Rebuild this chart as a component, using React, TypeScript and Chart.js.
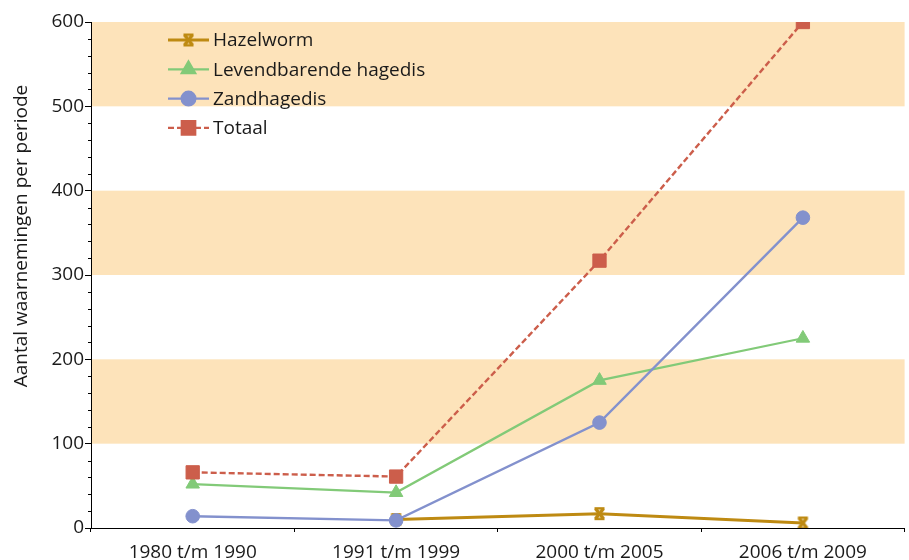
import React, { useEffect, useRef } from "react";
import { Chart, registerables } from "chart.js";
import { drawPoint } from "chart.js/helpers";

Chart.register(...registerables);

const categories = ["1980 t/m 1990", "1991 t/m 1999", "2000 t/m 2005", "2006 t/m 2009"];
const hazelworm = [null, 10, 17, 6];
const levendbarende = [52, 42, 175, 225];
const zandhagedis = [14, 9, 125, 368];
const totaal = [66, 61, 317, 600];
const yTicks = [0, 100, 200, 300, 400, 500, 600];
const bands = [[100, 200], [300, 400], [500, 600]];
const yTitle = "Aantal waarnemingen per periode";

const C_HAZEL = "#BE8A12";
const C_GREEN = "#82CA78";
const C_BLUE = "#8391CD";
const C_RED = "#CC5E4B";
const C_BAND = "#FDE3BA";
const C_TEXT = "#1a1a1a";
const FONT = "'Open Sans', 'Noto Sans', sans-serif";

const VIEW_W = 909;
const W = 915;
const H = 570;

function makeHourglass(color: string) {
  const c = document.createElement("canvas");
  c.width = 15;
  c.height = 15;
  const g = c.getContext("2d")!;
  g.strokeStyle = color;
  g.lineWidth = 3.4;
  g.lineCap = "butt";
  g.beginPath();
  g.moveTo(3.5, 2.5);
  g.lineTo(11.5, 12.5);
  g.moveTo(11.5, 2.5);
  g.lineTo(3.5, 12.5);
  g.stroke();
  g.lineWidth = 2.4;
  g.beginPath();
  g.moveTo(2.5, 2.2);
  g.lineTo(12.5, 2.2);
  g.moveTo(2.5, 12.8);
  g.lineTo(12.5, 12.8);
  g.stroke();
  return c;
}

const bandPlugin = {
  id: "bands",
  beforeDraw(chart: any) {
    const { ctx, chartArea, scales } = chart;
    const y = scales.y;
    ctx.save();
    ctx.fillStyle = C_BAND;
    for (const [a, b] of bands) {
      const y1 = y.getPixelForValue(b);
      const y2 = y.getPixelForValue(a);
      ctx.fillRect(chartArea.left, y1, chartArea.right - chartArea.left, y2 - y1);
    }
    ctx.restore();
  },
};

const extrasPlugin = {
  id: "extras",
  afterDraw(chart: any) {
    const { ctx, chartArea, scales } = chart;
    const y = scales.y;
    ctx.save();
    // minor ticks
    ctx.strokeStyle = "#000";
    ctx.lineWidth = 1;
    ctx.beginPath();
    for (let v = 0; v <= 600; v += 20) {
      if (v % 100 === 0) continue;
      const py = Math.round(y.getPixelForValue(v)) + 0.5;
      ctx.moveTo(chartArea.left - 3, py);
      ctx.lineTo(chartArea.left, py);
    }
    ctx.stroke();

    // y title
    ctx.fillStyle = C_TEXT;
    ctx.font = `19px ${FONT}`;
    ctx.textAlign = "center";
    ctx.textBaseline = "middle";
    ctx.translate(22, (chartArea.top + chartArea.bottom) / 2 - 39);
    ctx.rotate(-Math.PI / 2);
    ctx.fillText(yTitle, 0, 0);
    ctx.restore();

    // legend
    ctx.save();
    const lx = chartArea.left + 77;
    const ly = chartArea.top + 18;
    const rowH = 29.3;
    ctx.font = `19px ${FONT}`;
    ctx.textBaseline = "middle";
    ctx.textAlign = "left";
    chart.data.datasets.forEach((ds: any, i: number) => {
      const cy = ly + i * rowH;
      ctx.save();
      ctx.strokeStyle = ds.borderColor;
      ctx.lineWidth = ds.borderWidth;
      ctx.setLineDash(ds.borderDash || []);
      ctx.beginPath();
      ctx.moveTo(lx, cy);
      ctx.lineTo(lx + 41, cy);
      ctx.stroke();
      ctx.setLineDash([]);
      ctx.fillStyle = ds.pointBackgroundColor;
      ctx.strokeStyle = ds.pointBorderColor;
      drawPoint(ctx, {
        pointStyle: ds.pointStyle,
        radius: ds.pointRadius,
        rotation: 0,
        borderWidth: ds.pointBorderWidth,
      } as any, lx + 20.5, cy);
      ctx.restore();
      ctx.fillStyle = C_TEXT;
      ctx.fillText(ds.label, lx + 45, cy + 1);
    });
    ctx.restore();
  },
};

export default function App() {
  const ref = useRef<HTMLCanvasElement>(null);
  useEffect(() => {
    if (!ref.current) return;
    const hourglass = makeHourglass(C_HAZEL);
    const chart = new Chart(ref.current, {
      type: "line",
      data: {
        labels: categories,
        datasets: [
          {
            label: "Hazelworm",
            data: hazelworm,
            borderColor: C_HAZEL,
            backgroundColor: C_HAZEL,
            borderWidth: 3,
            pointStyle: hourglass as any,
            pointRadius: 7,
            pointBackgroundColor: C_HAZEL,
            pointBorderColor: C_HAZEL,
            pointBorderWidth: 1,
            order: 3,
            spanGaps: false,
          } as any,
          {
            label: "Levendbarende hagedis",
            data: levendbarende,
            borderColor: C_GREEN,
            backgroundColor: C_GREEN,
            borderWidth: 2.2,
            pointStyle: "triangle",
            pointRadius: 7.8,
            pointBackgroundColor: C_GREEN,
            pointBorderColor: C_GREEN,
            pointBorderWidth: 1,
            order: 2,
          },
          {
            label: "Zandhagedis",
            data: zandhagedis,
            borderColor: C_BLUE,
            backgroundColor: C_BLUE,
            borderWidth: 2.4,
            pointStyle: "circle",
            pointRadius: 6.8,
            pointBackgroundColor: C_BLUE,
            pointBorderColor: C_BLUE,
            pointBorderWidth: 1,
            order: 1,
          },
          {
            label: "Totaal",
            data: totaal,
            borderColor: C_RED,
            backgroundColor: C_RED,
            borderWidth: 2.4,
            borderDash: [6, 3],
            pointStyle: "rect",
            pointRadius: 9.4,
            pointBackgroundColor: C_RED,
            pointBorderColor: C_RED,
            pointBorderWidth: 1,
            order: 0,
          },
        ],
      },
      options: {
        responsive: false,
        animation: false,
        events: [],
        layout: { padding: { top: 22, right: 0, left: 0, bottom: 0 } },
        plugins: {
          legend: { display: false },
          tooltip: { enabled: false },
          title: { display: false },
        },
        scales: {
          x: {
            type: "category",
            offset: true,
            grid: {
              offset: true,
              drawOnChartArea: false,
              drawTicks: true,
              tickLength: 4,
              color: "#000",
            },
            border: { color: "#000", width: 1 },
            ticks: {
              color: C_TEXT,
              font: { family: FONT, size: 19 },
              padding: 9,
              maxRotation: 0,
              autoSkip: false,
            },
            afterFit(scale: any) {
              scale.height = H - 528;
              scale.paddingLeft = 0;
              scale.paddingRight = 0;
            },
          },
          y: {
            min: 0,
            max: 600,
            afterBuildTicks(scale: any) {
              scale.ticks = yTicks.map((v) => ({ value: v }));
            },
            grid: {
              drawOnChartArea: false,
              drawTicks: true,
              tickLength: 6,
              color: "#000",
            },
            border: { color: "#000", width: 1 },
            ticks: {
              color: C_TEXT,
              font: { family: FONT, size: 19 },
              padding: 1,
            },
            afterFit(scale: any) {
              scale.width = 91;
            },
          },
        },
      },
      plugins: [bandPlugin, extrasPlugin],
    });
    return () => chart.destroy();
  }, []);
  return (
    <div style={{ position: "fixed", left: 0, top: 0, width: VIEW_W, height: H, overflow: "hidden" }}>
      <canvas ref={ref} width={W} height={H} style={{ display: "block" }} />
    </div>
  );
}
